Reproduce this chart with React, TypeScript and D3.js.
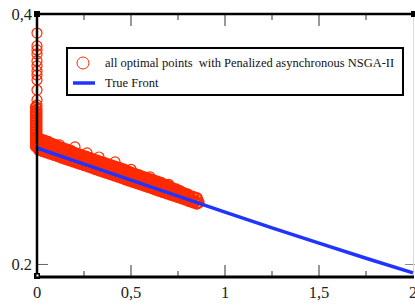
import React from "react";
import * as d3 from "d3";

const W = 415;
const H = 308;

// True front (f1, f2)
const frontF1 = [0, 0.25, 0.5, 0.75, 1, 1.25, 1.5, 1.75, 2];
const frontF2 = [0.293, 0.2802, 0.2674, 0.2546, 0.2418, 0.2292, 0.217, 0.205, 0.1933];

// Column of points at f1 = 0
const colF2 = [0.3848, 0.3745, 0.3713, 0.3681, 0.3625, 0.3585, 0.3545, 0.3513, 0.3473, 0.3393, 0.3314, 0.3274, 0.3242, 0.3218, 0.3194, 0.317, 0.3146, 0.3122, 0.3098, 0.3074, 0.305, 0.3026, 0.3003, 0.2979, 0.2955];
const colBF2 = [0.3258, 0.3226, 0.3206, 0.3182, 0.3158, 0.3134, 0.311, 0.3086, 0.3062, 0.3038, 0.3014, 0.299, 0.2967, 0.2943];

// Band near the front: lower row
const rowAF1 = [0, 0.02, 0.04, 0.06, 0.08, 0.1, 0.12, 0.14, 0.16, 0.18, 0.2, 0.22, 0.24, 0.26, 0.28, 0.3, 0.32, 0.34, 0.36, 0.38, 0.4, 0.42, 0.44, 0.46, 0.48, 0.5, 0.52, 0.54, 0.56, 0.58, 0.6, 0.62, 0.64, 0.66, 0.68, 0.7, 0.72, 0.74, 0.76, 0.78, 0.8, 0.82, 0.84, 0.86];
const rowAF2 = [0.2935, 0.2922, 0.2913, 0.2902, 0.2893, 0.2881, 0.2872, 0.2861, 0.2852, 0.2841, 0.2832, 0.2821, 0.2811, 0.28, 0.2791, 0.278, 0.277, 0.276, 0.275, 0.2739, 0.2729, 0.2719, 0.2709, 0.2698, 0.2688, 0.2678, 0.2668, 0.2657, 0.2647, 0.2637, 0.2626, 0.2616, 0.2606, 0.2596, 0.2585, 0.2575, 0.2565, 0.2555, 0.2544, 0.2534, 0.2524, 0.2514, 0.2503, 0.2494];

// just below the front
const rowEF1 = [0.01, 0.03, 0.05, 0.07, 0.09, 0.11, 0.13, 0.15, 0.17, 0.19, 0.21, 0.23, 0.25, 0.27, 0.29, 0.31, 0.33, 0.35, 0.37, 0.39, 0.41, 0.43, 0.45, 0.47, 0.49, 0.51, 0.53, 0.55, 0.57, 0.59, 0.61, 0.63, 0.65, 0.67, 0.69, 0.71, 0.73, 0.75, 0.77, 0.79, 0.81, 0.83, 0.85];
const rowEF2 = [0.2915, 0.2905, 0.2894, 0.2884, 0.2874, 0.2864, 0.2853, 0.2843, 0.2833, 0.2823, 0.2812, 0.2802, 0.2792, 0.2782, 0.2772, 0.2761, 0.2751, 0.2741, 0.2731, 0.272, 0.271, 0.27, 0.269, 0.2679, 0.2669, 0.2659, 0.2649, 0.2638, 0.2628, 0.2618, 0.2608, 0.2597, 0.2587, 0.2577, 0.2567, 0.2557, 0.2546, 0.2536, 0.2526, 0.2516, 0.2505, 0.2495, 0.2485];

// middle row
const rowBF1 = [0.01, 0.03, 0.05, 0.07, 0.09, 0.11, 0.13, 0.15, 0.17, 0.19, 0.21, 0.23, 0.25, 0.27, 0.29, 0.31, 0.33, 0.35, 0.37, 0.39, 0.41, 0.43, 0.45, 0.47, 0.49, 0.51, 0.53, 0.55, 0.57, 0.59, 0.61, 0.63, 0.65, 0.67, 0.69, 0.71, 0.73, 0.75, 0.77, 0.79, 0.81, 0.83, 0.85];
const rowBF2 = [0.296, 0.295, 0.2939, 0.2929, 0.2919, 0.2909, 0.2898, 0.2888, 0.2878, 0.2868, 0.2857, 0.2847, 0.2837, 0.2827, 0.2816, 0.2806, 0.2796, 0.2786, 0.2776, 0.2765, 0.2755, 0.2745, 0.2735, 0.2724, 0.2714, 0.2704, 0.2694, 0.2683, 0.2673, 0.2663, 0.2653, 0.2642, 0.2632, 0.2622, 0.2612, 0.2601, 0.2591, 0.2581, 0.2571, 0.256, 0.255, 0.254, 0.253];

// upper-middle row
const rowDF1 = [0.01, 0.03, 0.05, 0.07, 0.09, 0.11, 0.13, 0.15, 0.17, 0.19, 0.21, 0.23, 0.25, 0.27, 0.29, 0.31, 0.33, 0.35, 0.37, 0.39, 0.41, 0.43, 0.45, 0.47, 0.49, 0.51, 0.53, 0.55, 0.57, 0.59, 0.61, 0.63, 0.65, 0.67, 0.69, 0.71, 0.73, 0.75, 0.77, 0.79];
const rowDF2 = [0.2995, 0.2985, 0.2974, 0.2964, 0.2949, 0.2939, 0.2928, 0.2913, 0.2903, 0.2893, 0.2878, 0.2867, 0.2857, 0.2847, 0.2837, 0.2826, 0.2816, 0.2806, 0.2796, 0.2785, 0.2775, 0.2765, 0.2755, 0.2744, 0.2734, 0.2719, 0.2709, 0.2698, 0.2688, 0.2678, 0.2668, 0.2657, 0.2647, 0.2632, 0.2622, 0.2607, 0.2596, 0.2583, 0.2566, 0.2556];

// upper row
const rowCF1 = [0, 0.02, 0.04, 0.06, 0.08, 0.1, 0.12, 0.14, 0.16, 0.18, 0.2, 0.22, 0.24, 0.26, 0.28, 0.3, 0.32, 0.34, 0.36, 0.38, 0.4, 0.42, 0.44, 0.46, 0.48, 0.5, 0.52, 0.54, 0.56, 0.58, 0.6, 0.62, 0.64, 0.66, 0.68, 0.7, 0.72, 0.74, 0.76, 0.78, 0.8];
const rowCF2 = [0.3005, 0.2999, 0.299, 0.2979, 0.2964, 0.2954, 0.2939, 0.2928, 0.2918, 0.2908, 0.2893, 0.2882, 0.2872, 0.2862, 0.2852, 0.2841, 0.2831, 0.2821, 0.2811, 0.28, 0.279, 0.278, 0.277, 0.276, 0.2749, 0.2734, 0.2724, 0.2714, 0.2703, 0.2693, 0.2683, 0.2673, 0.2662, 0.2652, 0.2637, 0.2627, 0.2611, 0.2601, 0.2586, 0.2571, 0.256];

// sparse outliers above the band
const bumpF1 = [0.12, 0.202, 0.266, 0.33, 0.415, 0.5, 0.601, 0.7, 0.777, 0.856];
const bumpF2 = [0.2955, 0.2939, 0.2891, 0.2858, 0.2819, 0.276, 0.2699, 0.264, 0.2556, 0.2516];

const xTicksMajor = [0, 0.5, 1, 1.5, 2];
const xTickLabels = ["0", "0,5", "1", "1,5", "2"];
const xTicksMinor = [0.25, 0.75, 1.25, 1.75];
const yTicks = [0.2, 0.4];
const yTickLabels = ["0.2", "0,4"];

const legendLabels = ["all optimal points  with Penalized asynchronous NSGA-II", "True Front"];

const RED = "#ff2a00";
const BLUE = "#1f35ff";
const SERIF = "'Liberation Serif', 'DejaVu Serif', serif";

export default function App() {
  const left = 37, right = 413, top = 14, bottom = 277;
  const x = d3.scaleLinear().domain([0, 2]).range([left, right]);
  const y = d3.scaleLinear().domain([0.19, 0.4]).range([bottom, top]);

  const dense: [number, number][] = [];
  colBF2.forEach((v) => dense.push([-0.006, v]));
  rowAF1.forEach((v, i) => dense.push([v, rowAF2[i]]));
  rowEF1.forEach((v, i) => dense.push([v, rowEF2[i]]));
  rowBF1.forEach((v, i) => dense.push([v, rowBF2[i]]));
  rowDF1.forEach((v, i) => dense.push([v, rowDF2[i]]));
  rowCF1.forEach((v, i) => dense.push([v, rowCF2[i]]));

  const sparse: [number, number][] = [];
  colF2.forEach((v) => sparse.push([0, v]));
  bumpF1.forEach((v, i) => sparse.push([v, bumpF2[i]]));

  const line = d3
    .line<number>()
    .x((d) => x(d))
    .y((_, i) => y(frontF2[i]));

  return (
    <svg width={W} height={H} style={{ position: "absolute", left: 0, top: 0, background: "#fff" }}>
      <rect x={0} y={0} width={W} height={H} fill="#fff" />
      {/* ticks */}
      {xTicksMajor.slice(1, 4).map((t) => (
        <g key={"M" + t}>
          <line x1={x(t)} x2={x(t)} y1={bottom} y2={bottom - 12} stroke="#333" strokeWidth={1} />
          <line x1={x(t)} x2={x(t)} y1={top} y2={top + 12} stroke="#333" strokeWidth={1} />
        </g>
      ))}
      {xTicksMinor.map((t) => (
        <g key={"m" + t}>
          <line x1={x(t)} x2={x(t)} y1={bottom} y2={bottom - 6} stroke="#333" strokeWidth={1} />
          <line x1={x(t)} x2={x(t)} y1={top} y2={top + 6} stroke="#333" strokeWidth={1} />
        </g>
      ))}
      <line x1={left} x2={left + 11} y1={y(0.2)} y2={y(0.2)} stroke="#666" strokeWidth={1} />
      <line x1={right - 8} x2={W} y1={y(0.2)} y2={y(0.2)} stroke="#888" strokeWidth={1} />
      <line x1={right + 0.5} x2={right + 0.5} y1={top} y2={bottom} stroke="#ddd" strokeWidth={1} />

      {/* points */}
      <g fill="none" stroke={RED} strokeWidth={2}>
        {dense.map((p, i) => (
          <circle key={"d" + i} cx={x(p[0])} cy={y(p[1])} r={5} />
        ))}
      </g>
      <g fill="none" stroke={RED} strokeWidth={1.2}>
        {sparse.map((p, i) => (
          <circle key={"s" + i} cx={x(p[0])} cy={y(p[1])} r={5} />
        ))}
      </g>

      {/* true front */}
      <path d={line(frontF1) || ""} fill="none" stroke={BLUE} strokeWidth={3.5} />

      {/* frame */}
      <line x1={left} x2={right} y1={top} y2={top} stroke="#000" strokeWidth={2.5} />
      <line x1={left} x2={left} y1={top} y2={bottom} stroke="#000" strokeWidth={2.5} />
      <line x1={left} x2={right + 1} y1={bottom} y2={bottom} stroke="#000" strokeWidth={3} />
      <rect x={left - 3} y={top - 3} width={6} height={6} fill="#000" />
      <rect x={right - 2} y={top - 3} width={4} height={6} fill="#000" />
      <rect x={left - 3} y={bottom - 4} width={6} height={6} fill="#000" />
      <rect x={left - 0.5} y={bottom - 2.5} width={2} height={2} fill="#fff" />

      {/* tick labels */}
      <g fontFamily={SERIF} fontSize={16.5} fill="#222">
        {xTicksMajor.map((t, i) => (
          <text key={"xl" + t} x={x(t)} y={298} textAnchor="middle">
            {xTickLabels[i]}
          </text>
        ))}
        {yTicks.map((t, i) => (
          <text key={"yl" + t} x={32} y={y(t) + 6} textAnchor="end">
            {yTickLabels[i]}
          </text>
        ))}
      </g>

      {/* legend */}
      <rect x={67} y={48} width={336} height={47} fill="#fff" stroke="#000" strokeWidth={2} />
      <circle cx={83} cy={63} r={6} fill="none" stroke={RED} strokeWidth={1} />
      <line x1={73} x2={95} y1={83} y2={83} stroke={BLUE} strokeWidth={3.5} />
      <g fontFamily={SERIF} fontSize={12.5} fill="#111">
        <text x={105} y={67} style={{ whiteSpace: "pre" }}>{legendLabels[0]}</text>
        <text x={105} y={87}>{legendLabels[1]}</text>
      </g>
    </svg>
  );
}
